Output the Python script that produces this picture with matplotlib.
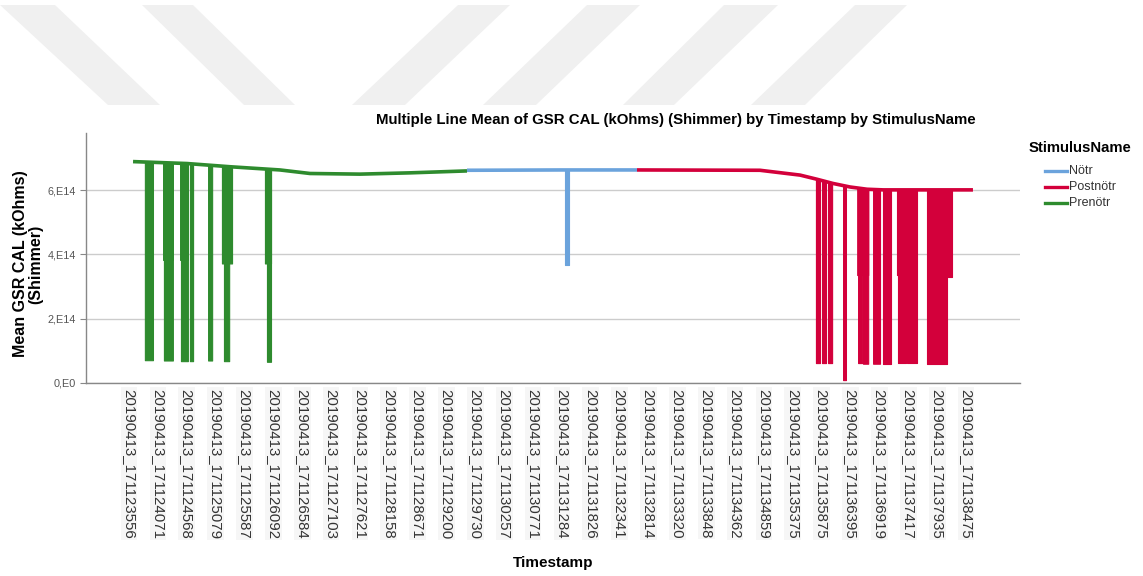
import numpy as np
import matplotlib
matplotlib.use("Agg")
import matplotlib.pyplot as plt
from matplotlib.patches import Polygon
from matplotlib.lines import Line2D

plt.rcParams['font.family'] = ['Liberation Sans', 'DejaVu Sans']

# ---- data -------------------------------------------------------------
timestamps = [
    "20190413_171123556", "20190413_171124071", "20190413_171124568",
    "20190413_171125079", "20190413_171125587", "20190413_171126092",
    "20190413_171126584", "20190413_171127103", "20190413_171127621",
    "20190413_171128158", "20190413_171128671", "20190413_171129200",
    "20190413_171129730", "20190413_171130257", "20190413_171130771",
    "20190413_171131284", "20190413_171131826", "20190413_171132341",
    "20190413_171132814", "20190413_171133320", "20190413_171133848",
    "20190413_171134362", "20190413_171134859", "20190413_171135375",
    "20190413_171135875", "20190413_171136395", "20190413_171136919",
    "20190413_171137417", "20190413_171137935", "20190413_171138475",
]

stimulus_names = ["Nötr", "Postnötr", "Prenötr"]

# mean GSR in units of 1e14 kOhms; x is measured in timestamp-label steps
notr_x = [11.71, 15.0, 17.60]
notr_y = [6.62, 6.63, 6.63]
notr_dip_start = [15.11]
notr_dip_end = [15.25]
notr_dip_low = [3.67]

postnotr_x = [17.60, 21.86, 23.25, 23.84, 24.39, 24.98, 25.57, 26.13, 29.24]
postnotr_y = [6.63, 6.62, 6.47, 6.34, 6.21, 6.10, 6.03, 6.01, 6.01]
postnotr_dip_start = [23.80, 24.01, 24.22, 24.74, 25.23, 25.26, 25.43, 25.78,
                      26.13, 26.61, 26.65, 26.96, 27.65, 28.34]
postnotr_dip_end = [23.94, 24.15, 24.36, 24.84, 25.61, 25.40, 25.61, 26.02,
                    26.40, 26.96, 26.92, 27.30, 28.34, 28.52]
postnotr_dip_low = [0.62, 0.62, 0.62, 0.09, 3.36, 0.62, 0.60, 0.60,
                    0.60, 3.36, 0.62, 0.62, 0.60, 3.30]

prenotr_x = [0.14, 2.01, 3.50, 5.23, 6.27, 8.00, 9.74, 11.71]
prenotr_y = [6.89, 6.83, 6.73, 6.63, 6.52, 6.50, 6.54, 6.60]
prenotr_dip_start = [0.55, 1.18, 1.21, 1.77, 1.80, 2.11, 2.74, 3.22, 3.29,
                     4.71, 4.78]
prenotr_dip_end = [0.83, 1.52, 1.52, 2.04, 2.04, 2.22, 2.88, 3.57, 3.47,
                   4.92, 4.92]
prenotr_dip_low = [0.71, 3.83, 0.70, 3.83, 0.68, 0.68, 0.70, 3.72, 0.68,
                   3.72, 0.66]

y_ticks = [0, 2, 4, 6]
y_tick_labels = ["0,E0", "2,E14", "4,E14", "6,E14"]

colors = {"Nötr": "#6ba3dc", "Postnötr": "#d3003b", "Prenötr": "#2e8b2e"}

series = {
    "Nötr": (notr_x, notr_y, notr_dip_start, notr_dip_end, notr_dip_low),
    "Postnötr": (postnotr_x, postnotr_y, postnotr_dip_start,
                 postnotr_dip_end, postnotr_dip_low),
    "Prenötr": (prenotr_x, prenotr_y, prenotr_dip_start,
                prenotr_dip_end, prenotr_dip_low),
}

# ---- figure -----------------------------------------------------------
W, H = 1143, 576
fig = plt.figure(figsize=(W / 100, H / 100), dpi=100)
fig.patch.set_facecolor("white")


def fx(px):
    return px / W


def fy(py):
    return 1 - py / H


# faint diagonal band decoration across the top strip
bands = [
    [(0, 5), (55, 5), (160, 105), (108, 105)],
    [(142, 5), (193, 5), (295, 105), (244, 105)],
    [(458, 5), (510, 5), (405, 105), (352, 105)],
    [(587, 5), (640, 5), (536, 105), (483, 105)],
    [(724, 5), (778, 5), (674, 105), (623, 105)],
    [(855, 5), (907, 5), (805, 105), (751, 105)],
]
for b in bands:
    fig.patches.append(Polygon([(fx(x), fy(y)) for x, y in b], closed=True,
                               transform=fig.transFigure, facecolor="#f0f0f0",
                               edgecolor="none", zorder=0))

ax = fig.add_axes([fx(86), fy(383), fx(1020) - fx(86), fy(133) - fy(383)])
ax.set_facecolor("white")

for name in ["Prenötr", "Nötr", "Postnötr"]:
    bx, by, ds, de, dl = series[name]
    c = colors[name]
    for s, e, low in zip(ds, de, dl):
        xs = np.array([s, e])
        top = np.interp(xs, bx, by)
        ax.fill_between(xs, low, top, color=c, linewidth=0.8, zorder=3)
    ax.plot(bx, by, color=c, linewidth=2.6, solid_capstyle="butt", zorder=4)

ax.set_xlim(-1.49, 30.87)
ax.set_ylim(0, 7.78)

ax.set_yticks(y_ticks)
ax.set_yticklabels(y_tick_labels)
ax.yaxis.grid(True, color="#cccccc", linewidth=1.0, zorder=0)
ax.set_axisbelow(True)
ax.tick_params(axis="y", length=4, width=0.8, color="#888888",
               labelsize=7.8, labelcolor="#555555", pad=3)

ax.set_xticks(range(len(timestamps)))
ax.set_xticklabels(timestamps, rotation=-90, fontsize=10.8, color="#333333")
ax.tick_params(axis="x", length=0, pad=4)
for lbl in ax.get_xticklabels():
    lbl.set_bbox(dict(facecolor="#f6f6f6", edgecolor="none", pad=1.0))

for side in ["top", "right"]:
    ax.spines[side].set_visible(False)
for side in ["left", "bottom"]:
    ax.spines[side].set_color("#888888")
    ax.spines[side].set_linewidth(1.0)

fig.text(fx(676), fy(120),
         "Multiple Line Mean of GSR CAL (kOhms) (Shimmer) by Timestamp by StimulusName",
         ha="center", va="center", fontsize=10.8, fontweight="bold")
fig.text(fx(28), fy(264), "Mean GSR CAL (kOhms)\n(Shimmer)", rotation=90,
         ha="center", va="center", fontsize=11.5, fontweight="bold",
         linespacing=1.0)
fig.text(fx(553), fy(563), "Timestamp", ha="center", va="center",
         fontsize=11, fontweight="bold")

# legend
fig.text(fx(1029), fy(148), "StimulusName", ha="left", va="center",
         fontsize=10.7, fontweight="bold")
for i, name in enumerate(stimulus_names):
    yy = fy(171 + 16 * i)
    fig.add_artist(Line2D([fx(1045), fx(1067)], [yy, yy], color=colors[name],
                          linewidth=2.4, transform=fig.transFigure))
    fig.text(fx(1069), yy, name, ha="left", va="center", fontsize=9,
             color="#333333")

fig.savefig("out.png", dpi=100, facecolor="white")
